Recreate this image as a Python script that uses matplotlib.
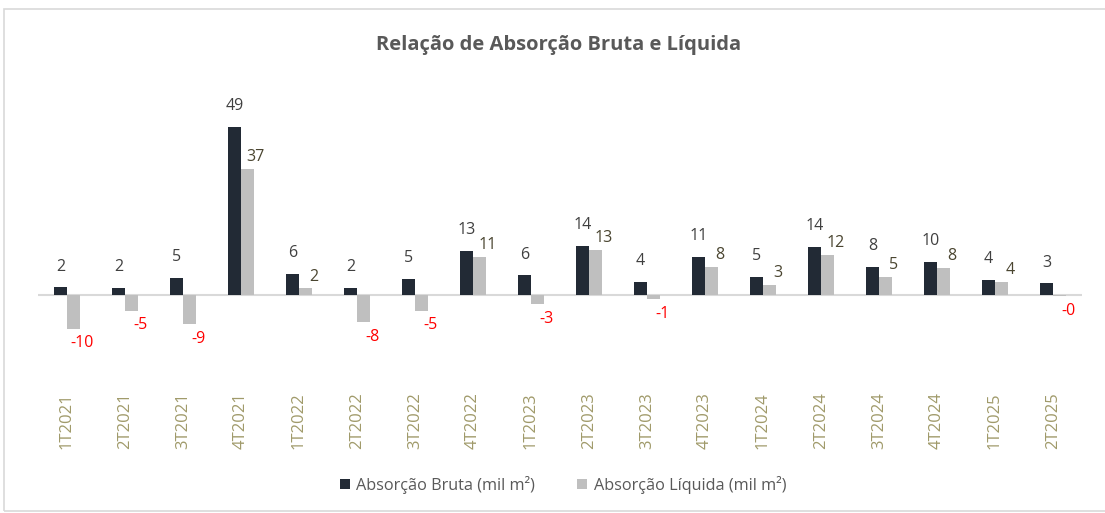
import matplotlib.pyplot as plt
import numpy as np
from matplotlib.patches import Rectangle

plt.rcParams['font.family'] = ['Open Sans', 'DejaVu Sans']

trimestres = ['1T2021', '2T2021', '3T2021', '4T2021', '1T2022', '2T2022', '3T2022',
              '4T2022', '1T2023', '2T2023', '3T2023', '4T2023', '1T2024', '2T2024',
              '3T2024', '4T2024', '1T2025', '2T2025']
bruta = [2.2, 2.1, 5.0, 49.0, 6.2, 2.0, 4.8, 12.8, 5.7, 14.3, 3.7, 11.0, 5.2, 14.1,
         8.3, 9.6, 4.3, 3.4]
liquida = [-9.8, -4.6, -8.6, 36.7, 1.9, -8.0, -4.6, 11.0, -2.7, 13.2, -1.2, 8.2, 2.9, 11.8,
           5.3, 8.0, 3.8, -0.3]

c_bruta = '#222a35'
c_liq = '#bfbfbf'

W, H = 1105, 513
fig = plt.figure(figsize=(W / 100, H / 100), dpi=100)

# moldura do gráfico
fig.patches.append(Rectangle((4 / W, 2 / H), 1110 / W, 502 / H, transform=fig.transFigure,
                             fill=False, edgecolor='#d9d9d9', lw=1.2))

ymin, ymax = -15, 55
zero_px, scale = 295, 3.43
ax_top = zero_px - ymax * scale
ax_bot = zero_px - ymin * scale
ax = fig.add_axes([38 / W, 1 - ax_bot / H, (1082 - 38) / W, (ax_bot - ax_top) / H])
ax.set_xlim(-0.5, len(trimestres) - 0.5)
ax.set_ylim(ymin, ymax)

x = np.arange(len(trimestres))
w = 0.22
ax.bar(x - w / 2, bruta, w, color=c_bruta, label='Absorção Bruta (mil m²)', zorder=3)
ax.bar(x + w / 2, liquida, w, color=c_liq, label='Absorção Líquida (mil m²)', zorder=3)
ax.axhline(0, color='#d9d9d9', lw=1.5, zorder=2)

for i in range(len(x)):
    ax.annotate('{:.0f}'.format(bruta[i]), (x[i] - w / 2, bruta[i]), xytext=(0, 15),
                textcoords='offset points', ha='center', va='center', fontsize=11.5,
                color='#404040')
    v = liquida[i]
    if v >= 0:
        ax.annotate('{:.0f}'.format(v), (x[i] + w / 2, v), xytext=(6, 8.5),
                    textcoords='offset points', ha='center', va='center', fontsize=11.5,
                    color='#4a4530')
    else:
        ax.annotate('{:.0f}'.format(v), (x[i] + w / 2, v), xytext=(6.5, -10.5),
                    textcoords='offset points', ha='center', va='center', fontsize=11.5,
                    color='#ff0000')

ax.set_xticks(x)
ax.set_xticklabels(trimestres, rotation=90, fontsize=12, color='#a09a6a')
ax.tick_params(axis='x', length=0, pad=33)
ax.set_yticks([])
for s in ax.spines.values():
    s.set_visible(False)

fig.text(559 / W, 1 - 45 / H, 'Relação de Absorção Bruta e Líquida', ha='center', va='center',
         fontsize=14.5, fontweight='bold', color='#595959')

fig.legend(loc='center', bbox_to_anchor=(563 / W, 1 - 485 / H), ncol=2, frameon=False,
           fontsize=11.7, labelcolor='#595959', handlelength=0.6, handleheight=0.6,
           handletextpad=0.4, columnspacing=2.6)

fig.savefig('out.png', dpi=100)
